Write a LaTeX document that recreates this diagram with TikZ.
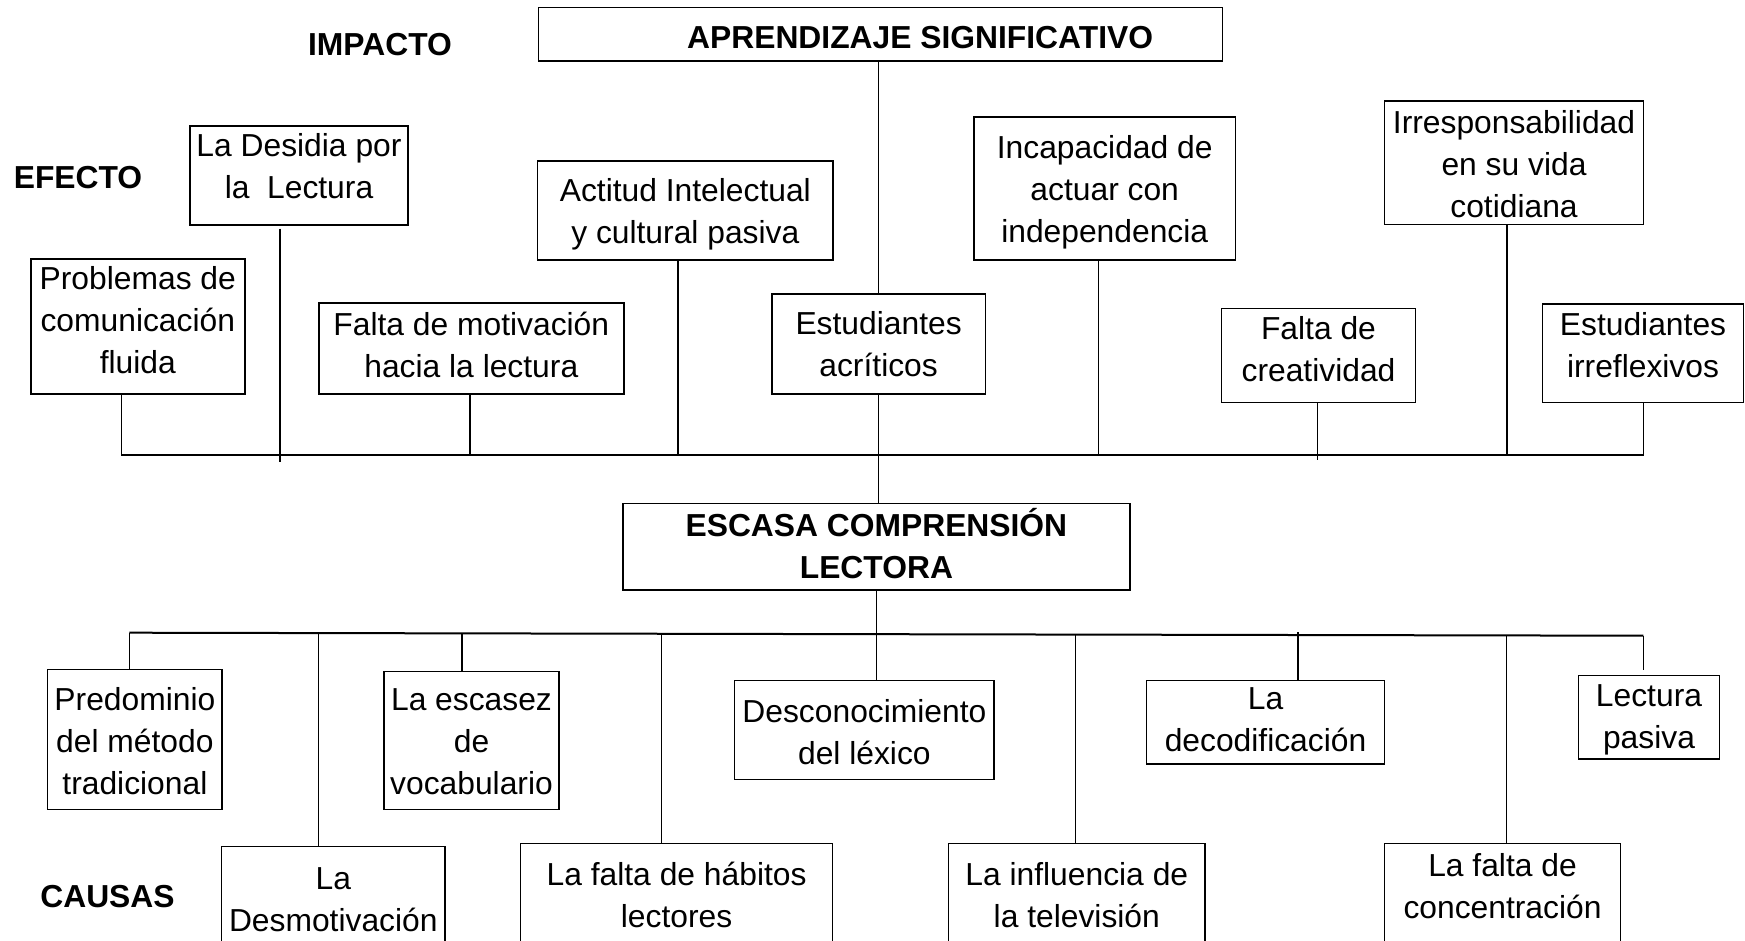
\documentclass[tikz,border=0pt]{standalone}
\usepackage{fontspec}
\setmainfont{Liberation Sans}
\usetikzlibrary{positioning}

\begin{document}
\begin{tikzpicture}[x=1pt, y=-1pt, line width=1.4pt, font={\fontsize{31.8}{42}\selectfont}]
	\tikzstyle{box}     = [draw=black, inner sep=0pt]
	\tikzstyle{cutbox}  = [draw=black, inner sep=0pt, anchor=north, minimum height=160pt]
	\tikzstyle{boxtext} = [inner sep=0pt, align=center]
	\tikzstyle{maintext}= [boxtext, font={\fontsize{31.8}{42}\selectfont\bfseries}]
	\tikzstyle{heading} = [inner sep=0pt, font={\fontsize{31.8}{42}\selectfont\bfseries}]
	\tikzstyle{bar}     = [line width=2pt]

	\useasboundingbox (0,0) rectangle (1745,941);
	\clip (0,0) rectangle (1745,941);

	% rotulos
	\node[heading] (impacto) at (380,45) {IMPACTO};
	\node[heading] (efecto) at (78,178) {EFECTO};
	\node[heading] (causas) at (107.5,897) {CAUSAS};

	\node[box, minimum width=684pt, minimum height=53.7pt] (top) at (880.6,34.2) {};
	\node[maintext, yshift=-3.7pt] (top t) at (top.center) {\hspace*{79pt}APRENDIZAJE SIGNIFICATIVO};
	\node[box, minimum width=507pt, minimum height=86.7pt] (root) at (876.4,546.7) {};
	\node[maintext, yshift=3pt] (root t) at (root.center) {ESCASA COMPRENSIÓN\\LECTORA};

	% efectos y causas (nombre/x/y/ancho/alto/ajuste/texto)
	\foreach \name/\x/\y/\w/\h/\up/\txt in {e1/137.8/326.5/214/135/6/{Problemas de\\comunicación\\fluida},
		e2/299/175.5/218/99/9.4/{La Desidia por\\la\ \ Lectura},
		e3/471.3/348.5/305/91/4/{Falta de motivación\\hacia la lectura},
		e4/685.3/210.5/295.5/99/-4/{Actitud Intelectual\\y cultural pasiva},
		e5/878.6/344/213.6/100/0/{Estudiantes\\acríticos},
		e6/1104.7/188.5/261.6/143/-3.5/{Incapacidad de\\actuar con\\independencia},
		e7/1514/162.7/259.5/123.3/-1/{Irresponsabilidad\\en su vida\\cotidiana},
		e8/1318.5/355.3/194/94/6.3/{Falta de\\creatividad},
		e9/1643/353.2/200.6/98.3/7.8/{Estudiantes\\irreflexivos},
		c1/134.9/739.3/174.3/140/-2/{Predominio\\del método\\tradicional},
		c3/471.5/740.5/175/137.6/-1.6/{La escasez\\de\\vocabulario},
		c5/864.4/730/259.3/98.6/-1.7/{Desconocimiento\\del léxico},
		c7/1265.5/722.3/238/83.3/2.7/{La\\decodificación},
		c9/1649/717.4/140.6/83.3/-2.1/{Lectura\\pasiva}}
	{
		\node[box, minimum width=\w pt, minimum height=\h pt] (\name) at (\x,\y) {};
		\node[boxtext, yshift=\up pt] (\name t) at (\name.center) {\txt};
	}

	\foreach \name/\x/\y/\w/\gap/\txt in {c2/333.3/845.7/223.4/21/{La\\Desmotivación},
		c4/676.6/842.7/312.2/19/{La falta de hábitos\\lectores},
		c6/1076.8/842.7/256.4/19/{La influencia de\\la televisión},
		c8/1502.5/842.5/236.5/10/{La falta de\\concentración}}
	{
		\node[cutbox, minimum width=\w pt] (\name) at (\x,\y) {};
		\node[boxtext, anchor=north, below=\gap pt of \name.north] (\name t) {\txt};
	}

	% conectores de efectos
	\foreach \n/\x in {e1/121.3, e2/280, e3/470, e4/678, e5/878.6, e6/1098.3, e7/1506.9, e8/1317.5, e9/1643.5}
		\coordinate (b\n) at (\x,455.3);
	\foreach \n in {e1, e3, e4, e5, e6, e7, e9}
		\draw (b\n |- \n.south) -- (b\n);
	\draw[shorten <=3pt, shorten >=-7pt] (be2 |- e2.south) -- (be2);
	\draw[shorten >=-5pt] (be8 |- e8.south) -- (be8);
	\draw[bar] (be1) -- (be9);
	\draw (e5.north) -- (e5.north |- top.south);
	\draw (e5.south) -- (e5.south |- root.north);

	% conectores de causas
	\foreach \n/\x/\y in {c1/129.3/632.7, c2/318.7/633.1, c3/462/633.5, c4/661.7/634, c6/1075.3/634.6, c7/1298/635.1, c8/1506.7/635.5, c9/1643.4/635.7}
		\coordinate (b\n) at (\x,\y);
	\foreach \n in {c1, c2, c3, c4, c6, c8}
		\draw (b\n) -- (b\n |- \n.north);
	\draw[shorten <=-3pt] (bc7) -- (bc7 |- c7.north);
	\draw[shorten >=5pt] (bc9) -- (bc9 |- c9.north);
	\draw[bar] (bc1) -- (bc9);
	\draw (root.south) -- (root.south |- c5.north);

\end{tikzpicture}
\end{document}
